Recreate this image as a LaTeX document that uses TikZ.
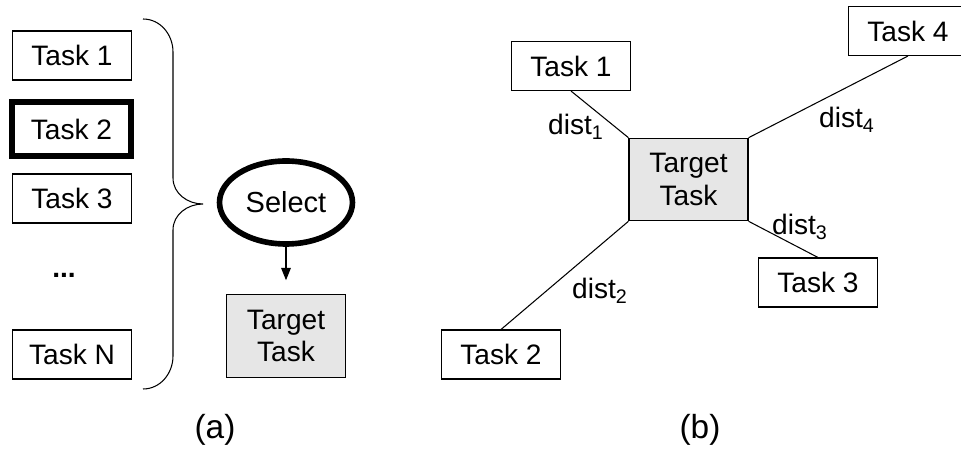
\documentclass[tikz,border=0pt]{standalone}
\usepackage{fontspec}
\setmainfont{Liberation Sans}
\usetikzlibrary{arrows.meta,shapes.geometric}
\definecolor{targetgray}{RGB}{230,230,230}
\tikzset{
  % plain task box
  task/.style={
    draw,
    line width=0.6pt,
    minimum width=2.38cm,
    minimum height=0.98cm,
    inner sep=0pt,
    font=\fontsize{16}{18.5}\selectfont
  },
  % the selected task
  chosen/.style={task, line width=3.3pt, minimum width=2.37cm, minimum height=1.07cm},
  % target task
  target/.style={task, fill=targetgray, minimum height=1.65cm, align=center},
  % select ellipse
  selnode/.style={
    ellipse,
    draw,
    line width=3.2pt,
    minimum width=2.66cm,
    minimum height=1.66cm,
    inner sep=0pt,
    font=\fontsize{16.5}{19}\selectfont
  },
  % distance labels
  distlab/.style={font=\fontsize{16}{18.5}\selectfont, inner sep=0pt},
  % (a), (b)
  caption/.style={font=\fontsize{19}{22}\selectfont},
  arr/.style={-{Triangle[width=5.5pt,length=7pt]}, line width=0.6pt},
  link/.style={line width=0.6pt},
}
\begin{document}
\begin{tikzpicture}[x=0.02cm, y=0.02cm]
    \useasboundingbox (0,0) rectangle (961,453);

    % (a) task list
    \node[task] (a1) at (72,397.5) {Task 1};
    \node[chosen] (a2) at (71.5,324) {Task 2};
    \node[task] (a3) at (72,254.5) {Task 3};
    \node[font=\fontsize{16}{18.5}\bfseries, inner sep=0pt] (adots) at (64,178) {...};
    \node[task] (aN) at (72,98.5) {Task N};

    % brace
    \draw[link] (143,434) to[out=0,in=90] (173,401) -- (173,275)
        to[out=-90,in=180] (203,249) to[out=180,in=90] (173,223)
        -- (173,97) to[out=-90,in=0] (143,64);

    % select
    \node[selnode] (sel) at (286,250.5) {Select};
    \node[target] (atgt) at (286,117) {Target\\Task};
    \draw[arr, shorten >=0.28cm] (sel) -- (atgt);

    \node[caption] (capa) at (215,23) {(a)};

    % (b) distances
    \node[target] (btgt) at (688.5,273.5) {Target\\Task};
    \node[task] (b1) at (571,387) {Task 1};
    \node[task] (b2) at (501,98.5) {Task 2};
    \node[task] (b3) at (818,170.5) {Task 3};
    \node[task] (b4) at (908,422) {Task 4};

    \draw[link] (b1.south) -- (btgt.north west);
    \draw[link] (b4.south) -- (btgt.north east);
    \draw[link] (btgt.south east) -- (b3.north);
    \draw[link] (btgt.south west) -- (b2.north);

    \node[distlab] (d1) at (576,326) {dist\textsubscript{1}};
    \node[distlab] (d2) at (600,162) {dist\textsubscript{2}};
    \node[distlab] (d3) at (800,226) {dist\textsubscript{3}};
    \node[distlab] (d4) at (847,333) {dist\textsubscript{4}};

    \node[caption] (capb) at (700,23) {(b)};
\end{tikzpicture}
\end{document}
